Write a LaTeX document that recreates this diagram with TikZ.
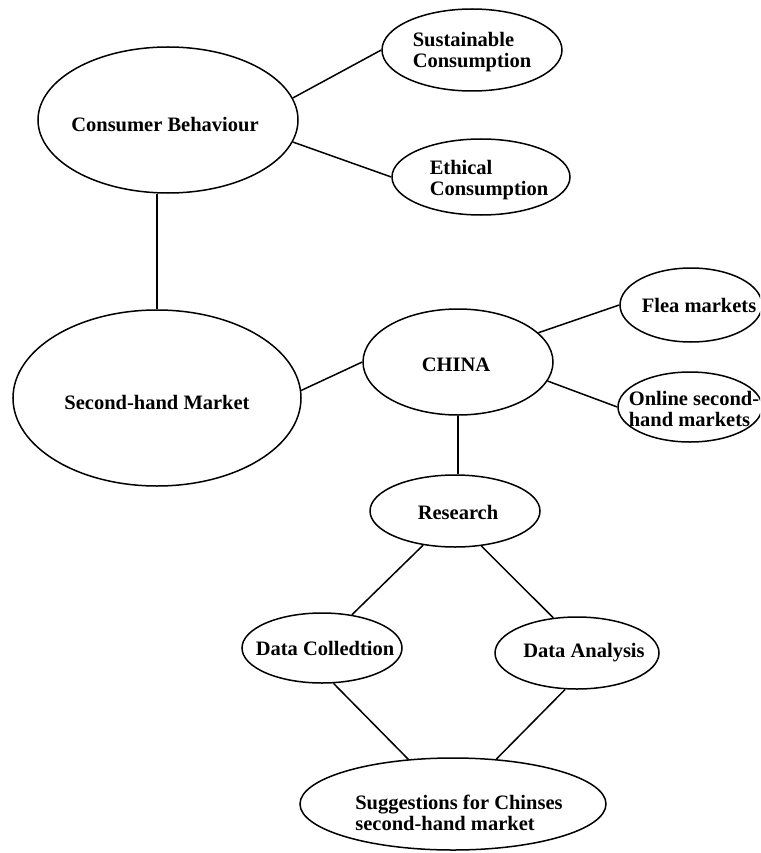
\documentclass[tikz,border=0pt]{standalone}
\usepackage{fontspec}
\setmainfont{Liberation Serif}
\usepackage{tikz}
\usetikzlibrary{shapes.geometric}
\def\wordsize{\fontsize{20.5}{21.5}\selectfont\bfseries}

\begin{document}
\begin{tikzpicture}[x=1pt,y=-1pt]
    \tikzstyle{topic}=[ellipse,draw=black,line width=1.5pt,inner sep=0pt]
    \tikzstyle{topic text}=[font=\wordsize,inner sep=0pt,align=left]
    \tikzstyle{link}=[line width=1.5pt,draw=black]

    \useasboundingbox (0,0) rectangle (760,853);
    \clip (0,0) rectangle (760,853);

    % Draw the ellipses
    \node[topic,minimum width=260,minimum height=146] (cb) at (168,120) {};
    \node[topic,minimum width=180,minimum height=82] (sust) at (472,50) {};
    \node[topic,minimum width=178,minimum height=76] (eth) at (481,177) {};
    \node[topic,minimum width=288,minimum height=176] (shm) at (157,398) {};
    \node[topic,minimum width=190,minimum height=106] (china) at (458,362) {};
    \node[topic,minimum width=142,minimum height=74] (flea) at (691,305) {};
    \node[topic,minimum width=144,minimum height=70] (online) at (690,407) {};
    \node[topic,minimum width=170,minimum height=72] (res) at (455,511) {};
    \node[topic,minimum width=160,minimum height=70] (dcol) at (322,648) {};
    \node[topic,minimum width=164,minimum height=72] (dana) at (577,653) {};
    \node[topic,minimum width=306,minimum height=92] (sugg) at (453,804) {};

    % Draw the texts
    \node[topic text] (cb-t) at (165,125) {Consumer Behaviour};
    \node[topic text] (sust-t) at (472,52) {Sustainable\\Consumption};
    \node[topic text] (eth-t) at (489,180) {Ethical\\Consumption};
    \node[topic text] (shm-t) at (157,402) {Second-hand Market};
    \node[topic text] (china-t) at (456,365) {CHINA};
    \node[topic text] (flea-t) at (699,305) {Flea markets};
    \node[topic text] (online-t) at (694,409) {Online second-\\hand markets};
    \node[topic text] (res-t) at (458,512) {Research};
    \node[topic text] (dcol-t) at (325,648) {Data Colledtion};
    \node[topic text] (dana-t) at (584,653) {Data Analysis};
    \node[topic text] (sugg-t) at (459,813) {Suggestions for Chinses\\second-hand market};

    % Draw the connections
    \draw[link] (cb.10) -- (sust.west);
    \draw[link] (cb.-10) -- (eth.west);
    \draw[link] (cb.south -| shm.north) -- (shm.north);
    \draw[link] (shm.3) -- (china.west);
    \draw[link] (china.20) -- (flea.west);
    \draw[link] (china.-12) -- (online.west);
    \draw[link] (china.south) -- (china.south |- res.north);
    \draw[link] (res.227) -- (dcol.48);
    \draw[link] (res.-53) -- (dana.124);
    \draw[link] (dcol.-72) -- (sugg.135);
    \draw[link] (dana.-108) -- (sugg.46);
\end{tikzpicture}
\end{document}
